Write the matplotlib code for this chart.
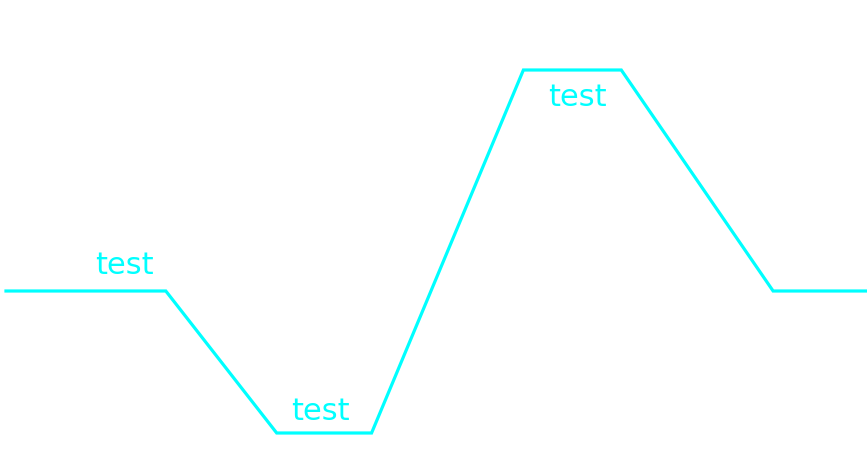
import matplotlib
matplotlib.use("Agg")
import matplotlib.pyplot as plt

# Line vertices (time, level)
times = [0, 160, 271, 366, 518, 616, 768, 861]
levels = [0.0, 0.0, -1.42, -1.42, 2.21, 2.21, 0.0, 0.0]

# Labels placed on the flat segments
label_texts = ["test", "test", "test"]
label_x = [119, 315, 572]
label_y = [0.25, -1.20, 1.94]

color = "#00FFFF"

fig = plt.figure(figsize=(8.67, 4.70), dpi=100)
ax = fig.add_axes([0, 0, 1, 1])
ax.plot(times, levels, color=color, linewidth=2.3, solid_joinstyle="miter")

for txt, x, y in zip(label_texts, label_x, label_y):
    ax.text(x, y, txt, color=color, fontsize=22, ha="center", va="center",
            family="DejaVu Sans")

ax.set_xlim(-6, 862)
ax.set_ylim(-1.79, 2.91)
ax.axis("off")

fig.savefig("out.png", dpi=100)
